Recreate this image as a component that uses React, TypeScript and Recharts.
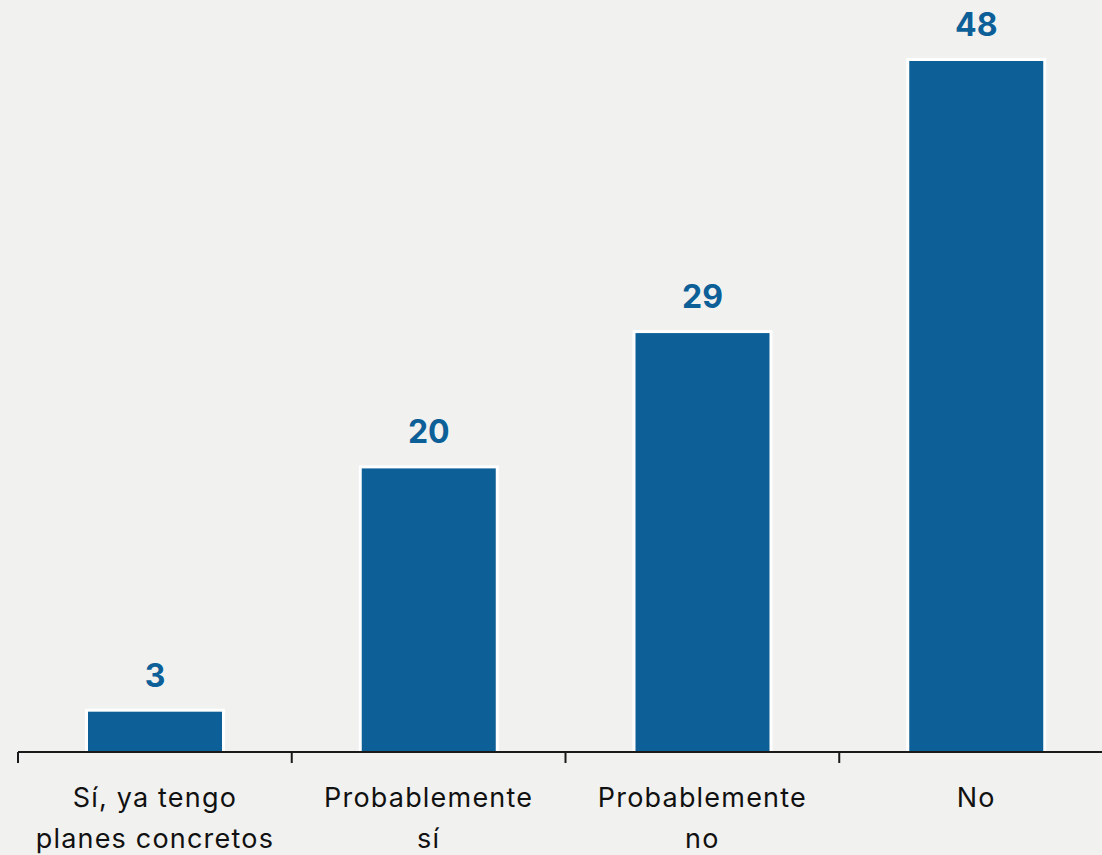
import { BarChart, Bar, XAxis, YAxis, LabelList } from "recharts"

// categorías (salto de línea = como se ve en el eje)
const categories = ["Sí, ya tengo\nplanes concretos", "Probablemente\nsí", "Probablemente\nno", "No"]
const values = [2.8, 19.7, 29.1, 48]

const data = categories.map((name, i) => ({ name, value: values[i] }))

const BLUE = "#0c5f97"
const INK = "#1a1a1a"
const FONT = "Inter, 'Noto Sans', sans-serif"
const TICK_SIZE = 11
const TICK_MARGIN = 2

const BarWithBorder = (props: any) => {
  const { x, y, width, height } = props
  if (height <= 0) return null
  return (
    <g>
      <rect x={x - 3} y={y - 3} width={width + 6} height={height + 3} fill="#ffffff" />
      <rect x={x} y={y} width={width} height={height} fill={BLUE} />
    </g>
  )
}

// etiqueta + marca en el borde izquierdo de cada categoría
const CategoryTick = (props: any) => {
  const { x, y, payload, width, visibleTicksCount } = props
  const band = width / (visibleTicksCount || categories.length)
  const axisY = y - TICK_SIZE - TICK_MARGIN
  const lines = String(payload.value).split("\n")
  const isLast = payload.index === categories.length - 1
  return (
    <g>
      <line x1={x - band / 2} x2={x - band / 2} y1={axisY} y2={axisY + TICK_SIZE} stroke={INK} strokeWidth={2} />
      {isLast && (
        <line x1={x + band / 2} x2={x + band / 2} y1={axisY} y2={axisY + TICK_SIZE} stroke={INK} strokeWidth={2} />
      )}
      <text x={x} y={y} textAnchor="middle" fill="#111111" fontFamily={FONT} fontSize={27} letterSpacing={1.2}>
        {lines.map((line, i) => (
          <tspan key={i} x={x} dy={i === 0 ? 42 : 41}>
            {line}
          </tspan>
        ))}
      </text>
    </g>
  )
}

const App = () => {
  return (
    <div
      style={{
        position: "fixed",
        left: 0,
        top: 0,
        width: 1102,
        height: 855,
        overflow: "hidden",
        background: "#f1f1f0",
      }}
    >
      <BarChart width={1113} height={855} data={data} margin={{ top: 61, right: 0, left: 18, bottom: 0 }}>
        <XAxis
          dataKey="name"
          height={103}
          interval={0}
          tick={<CategoryTick />}
          tickSize={TICK_SIZE}
          tickMargin={TICK_MARGIN}
          tickLine={false}
          axisLine={{ stroke: INK, strokeWidth: 2 }}
        />
        <YAxis hide domain={[0, 48]} />
        <Bar dataKey="value" barSize={134} shape={<BarWithBorder />} isAnimationActive={false}>
          <LabelList
            dataKey="value"
            position="top"
            offset={25}
            formatter={(v: any) => Math.round(Number(v))}
            fill={BLUE}
            fontFamily={FONT}
            fontSize={32}
            fontWeight={700}
          />
        </Bar>
      </BarChart>
    </div>
  )
}

export default App
